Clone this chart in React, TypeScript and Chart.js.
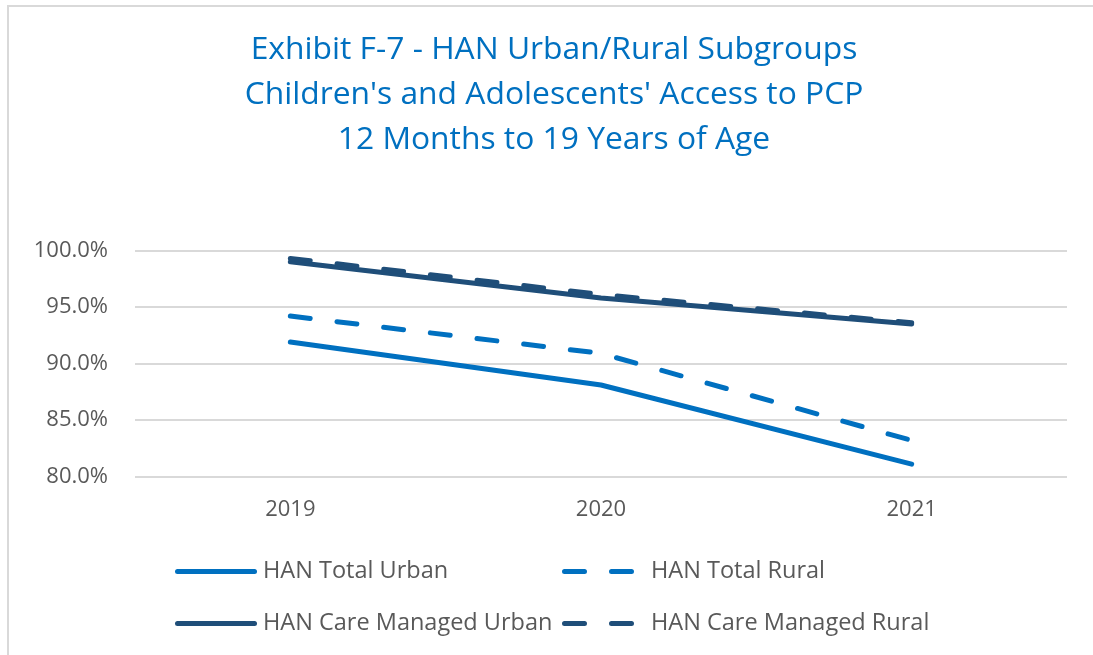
import React, { useEffect, useRef } from "react";
import { Chart, registerables } from "chart.js";

Chart.register(...registerables);

const years = ["2019", "2020", "2021"];
const totalUrban = [91.9, 88.1, 81.1];
const totalRural = [94.2, 90.9, 83.2];
const cmUrban = [99.0, 95.8, 93.5];
const cmRural = [99.3, 96.1, 93.6];
const seriesLabels = ["HAN Total Urban", "HAN Total Rural", "HAN Care Managed Urban", "HAN Care Managed Rural"];
const titleLines = [
  "Exhibit F-7 - HAN Urban/Rural Subgroups",
  "Children's and Adolescents' Access to PCP",
  "12 Months to 19 Years of Age",
];

const LIGHT = "#0070C0";
const DARK = "#1F4E79";
const DASH = [20, 27];
const FONT = "'Open Sans', sans-serif";

const titlePlugin = {
  id: "customTitle",
  afterDraw(chart: any) {
    const ctx = chart.ctx;
    ctx.save();
    ctx.fillStyle = LIGHT;
    ctx.font = `31.8px ${FONT}`;
    ctx.textAlign = "center";
    ctx.textBaseline = "middle";
    titleLines.forEach((t, i) => ctx.fillText(t, 554, 50 + i * 45));
    ctx.restore();
  },
};

const legendPlugin = {
  id: "customLegend",
  afterDraw(chart: any) {
    const ctx = chart.ctx;
    const area = chart.chartArea;
    const cols = [area.left + 40, area.left + 427];
    const rows = [area.bottom + 95, area.bottom + 147];
    chart.data.datasets.forEach((ds: any, i: number) => {
      const x = cols[i % 2];
      const y = rows[Math.floor(i / 2)];
      ctx.save();
      ctx.strokeStyle = ds.borderColor;
      ctx.lineWidth = ds.borderWidth;
      ctx.lineCap = "round";
      ctx.setLineDash(ds.borderDash || []);
      ctx.beginPath();
      ctx.moveTo(x + 2.5, y);
      ctx.lineTo(x + (ds.borderDash ? 73 : 79.5), y);
      ctx.stroke();
      ctx.setLineDash([]);
      ctx.fillStyle = "#595959";
      ctx.font = `23.5px ${FONT}`;
      ctx.textBaseline = "middle";
      ctx.textAlign = "left";
      ctx.fillText(ds.label, x + (i % 2 === 1 ? 89 : 88), y);
      ctx.restore();
    });
  },
};

export default function App() {
  const ref = useRef<HTMLCanvasElement>(null);
  useEffect(() => {
    if (!ref.current) return;
    const mk = (label: string, data: number[], color: string, dashed: boolean, order: number) => ({
      label,
      data,
      borderColor: color,
      backgroundColor: color,
      borderWidth: 5,
      borderCapStyle: "round" as const,
      borderJoinStyle: "round" as const,
      borderDash: dashed ? DASH : undefined,
      pointRadius: 0,
      tension: 0,
      order,
    });
    const chart = new Chart(ref.current, {
      type: "line",
      data: {
        labels: years,
        datasets: [
          mk(seriesLabels[0], totalUrban, LIGHT, false, 4),
          mk(seriesLabels[1], totalRural, LIGHT, true, 3),
          mk(seriesLabels[2], cmUrban, DARK, false, 2),
          mk(seriesLabels[3], cmRural, DARK, true, 1),
        ],
      },
      options: {
        animation: false,
        responsive: false,
        layout: { padding: { left: 0, right: 26, top: 250.5, bottom: 112 } },
        plugins: {
          legend: { display: false },
          tooltip: { enabled: false },
          title: { display: false },
        },
        scales: {
          x: {
            offset: true,
            grid: { display: false, drawTicks: false },
            border: { display: false },
            ticks: {
              color: "#595959",
              font: { family: FONT, size: 22 },
              padding: 20,
              maxRotation: 0,
              autoSkip: false,
            },
          },
          y: {
            min: 80,
            max: 100,
            grid: { color: "#d9d9d9", lineWidth: 2, drawTicks: false },
            border: { display: false },
            afterFit: (scale: any) => {
              scale.width = 135;
            },
            ticks: {
              stepSize: 5,
              color: "#595959",
              font: { family: FONT, size: 22 },
              padding: 27,
              callback: (v: any) => Number(v).toFixed(1) + "%",
            },
          },
        },
      },
      plugins: [titlePlugin, legendPlugin],
    });
    return () => chart.destroy();
  }, []);
  return (
    <div style={{ position: "fixed", left: 0, top: 0, width: 1093, height: 655, overflow: "hidden", background: "#fff" }}>
      <div
        style={{
          position: "absolute",
          left: 7,
          top: 5,
          width: 1200,
          height: 800,
          borderLeft: "2px solid #d9d9d9",
          borderTop: "2px solid #d9d9d9",
        }}
      />
      <canvas ref={ref} width={1093} height={655} style={{ position: "absolute", left: 0, top: 0 }} />
    </div>
  );
}
